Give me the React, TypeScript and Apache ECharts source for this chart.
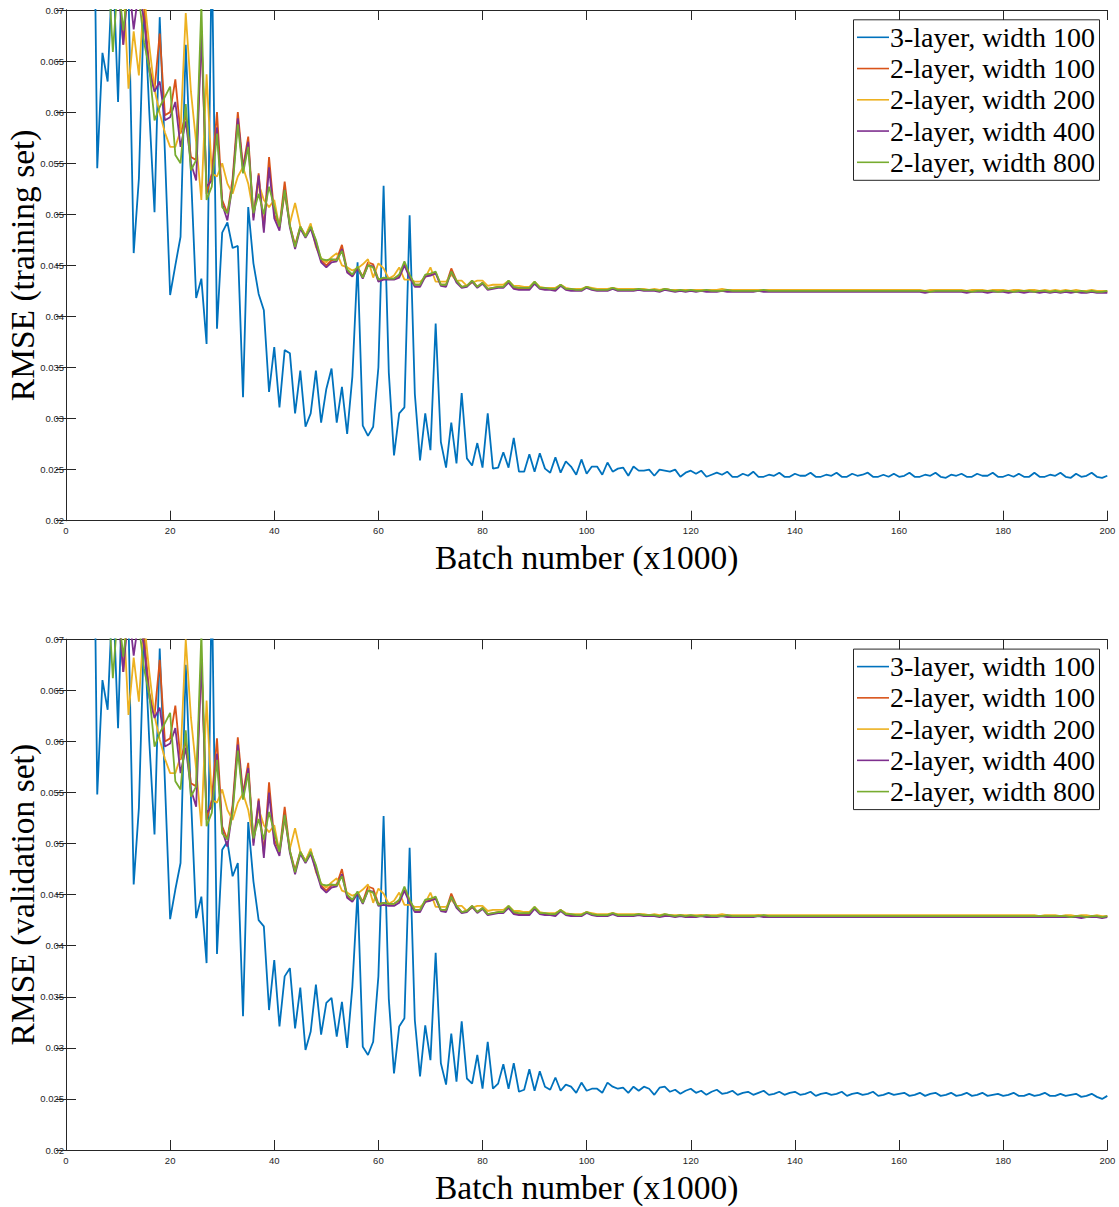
import { useEffect, useRef } from "react";
import * as echarts from "echarts";

// Batch number (x1000): 1..200
const BATCHES: number[] = Array.from({ length: 200 }, (_, i) => i + 1);

const SERIES_NAMES = [
  "3-layer, width 100",
  "2-layer, width 100",
  "2-layer, width 200",
  "2-layer, width 400",
  "2-layer, width 800",
];
const COLORS = ["#0072BD", "#D95319", "#EDB120", "#7E2F8E", "#77AC30"];
const Y_TICK_LABELS = ["0.02", "0.025", "0.03", "0.035", "0.04", "0.045", "0.05", "0.055", "0.06", "0.065", "0.07"];
const X_TICK_LABELS = ["0", "20", "40", "60", "80", "100", "120", "140", "160", "180", "200"];

// ---------------- training set ----------------
const TRAIN_3L_W100 = [
  .09, .09, .095, .09, .1, .0545, .0658, .063, .075, .061,
  .078, .072, .0462, .0535, .071, .06, .0502, .0693, .056, .0421,
  .045, .0478, .0666, .054, .0418, .0437, .0373, .076, .0388, .0482,
  .0492, .0467, .0469, .0321, .0507, .0452, .0422, .0406, .0326, .037,
  .0311, .0367, .0364, .0305, .0347, .0292, .0305, .0347, .0296, .0329,
  .0349, .0296, .0331, .0285, .0341, .0453, .0293, .0283, .0292, .035,
  .0528, .0345, .0264, .0305, .0311, .0499, .0324, .0259, .0305, .0269,
  .0393, .0277, .0252, .0296, .0256, .0325, .0261, .0254, .0276, .0252,
  .0305, .0251, .0252, .0267, .0252, .0281, .0248, .0248, .0265, .0248,
  .0266, .0251, .0247, .0262, .0247, .0258, .0253, .0245, .026, .0246,
  .0253, .0253, .0245, .0257, .0248, .0251, .0252, .0244, .0253, .0249,
  .0249, .025, .0244, .025, .0249, .0248, .025, .0243, .0247, .0249,
  .0246, .0249, .0243, .0245, .0247, .0245, .0248, .0243, .0243, .0246,
  .0244, .0248, .0243, .0243, .0245, .0244, .0247, .0243, .0243, .0246,
  .0244, .0244, .0247, .0243, .0243, .0245, .0244, .0247, .0243, .0243,
  .0246, .0244, .0245, .0247, .0243, .0243, .0245, .0243, .0246, .0243,
  .0244, .0247, .0243, .0243, .0245, .0244, .0247, .0243, .0242, .0245,
  .0244, .0246, .0243, .0243, .0246, .0244, .0244, .0247, .0243, .0243,
  .0245, .0243, .0246, .0243, .0243, .0247, .0243, .0243, .0245, .0244,
  .0247, .0243, .0242, .0246, .0243, .0244, .0247, .0243, .0242, .0244,
];

const TRAIN_2L_W100 = [
  .085, .083, .081, .08, .079, .078, .077, .076, .075, .074,
  .0666, .0735, .0722, .0716, .07, .0645, .0622, .0677, .0597, .06,
  .0632, .0579, .0597, .0556, .0553, .0677, .052, .054, .06, .0514,
  .0501, .0535, .06, .0546, .0576, .0497, .054, .0486, .0556, .05,
  .0488, .0532, .0489, .047, .0488, .0479, .0489, .0473, .0455, .045,
  .0455, .0456, .047, .0445, .044, .0448, .0439, .0453, .0451, .0436,
  .0437, .0437, .0437, .044, .0451, .044, .0431, .0431, .044, .0441,
  .0443, .0431, .0431, .0447, .0435, .0429, .043, .0435, .0429, .0433,
  .0427, .0428, .0429, .0429, .0434, .0428, .0427, .0427, .0427, .0433,
  .0428, .0427, .0427, .0426, .0431, .0427, .0426, .0426, .0426, .0429,
  .0427, .0426, .0426, .0426, .0428, .0426, .0426, .0426, .0426, .0427,
  .0426, .0426, .0426, .0425, .0427, .0426, .0425, .0426, .0425, .0426,
  .0425, .0426, .0425, .0425, .0425, .0426, .0425, .0425, .0425, .0425,
  .0425, .0425, .0426, .0425, .0425, .0425, .0425, .0425, .0425, .0425,
  .0425, .0425, .0425, .0425, .0425, .0425, .0425, .0425, .0425, .0425,
  .0425, .0425, .0425, .0425, .0425, .0425, .0425, .0425, .0425, .0425,
  .0425, .0425, .0425, .0425, .0424, .0425, .0425, .0425, .0425, .0425,
  .0425, .0425, .0424, .0425, .0425, .0425, .0424, .0425, .0425, .0425,
  .0424, .0425, .0425, .0424, .0425, .0425, .0424, .0425, .0424, .0425,
  .0424, .0425, .0424, .0425, .0424, .0424, .0425, .0424, .0424, .0424,
];

const TRAIN_2L_W200 = [
  .085, .083, .082, .08, .079, .078, .077, .076, .075, .074,
  .073, .0623, .0679, .0636, .0715, .0665, .0622, .0599, .058, .0566,
  .0566, .0582, .0697, .062, .057, .0514, .0637, .054, .0537, .055,
  .053, .052, .0537, .0546, .053, .0501, .053, .0514, .0507, .0514,
  .0487, .052, .0491, .0511, .0488, .0479, .0491, .0468, .0457, .0453,
  .0458, .0462, .045, .0448, .0445, .0447, .0451, .0456, .0438, .0452,
  .0447, .0437, .044, .0448, .0436, .0436, .0434, .0434, .0438, .0448,
  .0434, .0434, .0434, .0441, .0435, .0435, .043, .0433, .0435, .0435,
  .043, .0431, .0431, .0431, .0435, .043, .043, .0429, .0429, .0434,
  .0429, .0428, .0428, .0428, .0431, .0428, .0427, .0427, .0427, .0429,
  .0428, .0427, .0427, .0427, .0428, .0427, .0427, .0427, .0427, .0427,
  .0427, .0426, .0427, .0426, .0427, .0426, .0426, .0426, .0426, .0426,
  .0426, .0426, .0426, .0426, .0426, .0427, .0426, .0426, .0426, .0426,
  .0426, .0426, .0426, .0426, .0426, .0426, .0426, .0426, .0426, .0426,
  .0426, .0426, .0426, .0426, .0426, .0426, .0426, .0426, .0426, .0426,
  .0426, .0426, .0426, .0426, .0426, .0426, .0426, .0426, .0426, .0426,
  .0426, .0426, .0426, .0426, .0425, .0426, .0426, .0426, .0426, .0426,
  .0426, .0426, .0425, .0426, .0426, .0426, .0425, .0426, .0426, .0426,
  .0425, .0426, .0426, .0425, .0426, .0426, .0425, .0426, .0425, .0426,
  .0425, .0426, .0425, .0426, .0425, .0425, .0426, .0425, .0425, .0425,
];

const TRAIN_2L_W400 = [
  .082, .08, .079, .078, .077, .076, .075, .074, .073, .0725,
  .0666, .073, .0681, .072, .069, .064, .062, .063, .0592, .0595,
  .061, .0566, .0591, .055, .0533, .0677, .0527, .0533, .0585, .051,
  .0494, .053, .0594, .0543, .0571, .0494, .0538, .0482, .0546, .0496,
  .0484, .0524, .0487, .0466, .0486, .0477, .0486, .047, .0453, .0448,
  .0453, .0454, .0466, .0443, .0439, .0447, .0437, .045, .0449, .0434,
  .0436, .0436, .0436, .0438, .045, .0438, .0429, .0429, .0439, .044,
  .0442, .043, .0429, .0444, .0433, .0428, .0429, .0434, .0428, .0432,
  .0426, .0427, .0428, .0428, .0433, .0427, .0426, .0426, .0426, .0432,
  .0427, .0426, .0426, .0425, .043, .0426, .0425, .0425, .0425, .0428,
  .0426, .0425, .0425, .0425, .0427, .0425, .0425, .0425, .0425, .0426,
  .0425, .0425, .0425, .0424, .0426, .0425, .0424, .0425, .0424, .0425,
  .0424, .0425, .0424, .0424, .0424, .0425, .0424, .0424, .0424, .0424,
  .0424, .0424, .0425, .0424, .0424, .0424, .0424, .0424, .0424, .0424,
  .0424, .0424, .0424, .0424, .0424, .0424, .0424, .0424, .0424, .0424,
  .0424, .0424, .0424, .0424, .0424, .0424, .0424, .0424, .0424, .0424,
  .0424, .0424, .0424, .0424, .0423, .0424, .0424, .0424, .0424, .0424,
  .0424, .0424, .0423, .0424, .0424, .0424, .0423, .0424, .0424, .0424,
  .0423, .0424, .0424, .0423, .0424, .0424, .0423, .0424, .0423, .0424,
  .0423, .0424, .0423, .0424, .0423, .0423, .0424, .0423, .0423, .0423,
];

const TRAIN_2L_W800 = [
  .085, .083, .08, .079, .078, .077, .076, .075, .0659, .073,
  .068, .0725, .072, .0712, .0668, .0643, .0592, .0605, .0615, .0625,
  .0558, .055, .0608, .0543, .0553, .0705, .0514, .0527, .0579, .0507,
  .0501, .0527, .0588, .054, .0566, .0501, .052, .05, .0527, .0507,
  .0488, .0524, .0489, .0468, .0488, .0478, .0488, .0475, .0456, .0455,
  .0456, .0455, .0464, .0446, .0441, .0449, .0438, .045, .0448, .0436,
  .0438, .0437, .0437, .0441, .0454, .0441, .0431, .0431, .0441, .0442,
  .0444, .0431, .0431, .0444, .0435, .0429, .043, .0435, .0429, .0433,
  .0427, .0428, .0429, .0429, .0435, .0429, .0428, .0428, .0428, .0434,
  .0428, .0428, .0427, .0427, .0431, .0427, .0427, .0426, .0426, .0429,
  .0427, .0426, .0426, .0426, .0428, .0426, .0426, .0426, .0426, .0427,
  .0426, .0426, .0426, .0425, .0427, .0426, .0425, .0426, .0425, .0426,
  .0425, .0425, .0426, .0425, .0425, .0425, .0426, .0425, .0425, .0425,
  .0425, .0425, .0425, .0426, .0425, .0425, .0425, .0425, .0425, .0425,
  .0425, .0425, .0425, .0425, .0425, .0425, .0425, .0425, .0425, .0425,
  .0425, .0425, .0425, .0425, .0425, .0425, .0425, .0425, .0425, .0425,
  .0425, .0425, .0425, .0425, .0425, .0424, .0425, .0425, .0425, .0425,
  .0425, .0425, .0425, .0424, .0425, .0425, .0425, .0425, .0424, .0425,
  .0425, .0424, .0425, .0425, .0425, .0424, .0425, .0425, .0424, .0425,
  .0424, .0425, .0425, .0424, .0425, .0424, .0425, .0424, .0424, .0425,
];

// ---------------- validation set ----------------
const VALID_3L_W100 = [
  .09, .09, .095, .09, .1, .0548, .066, .0631, .075, .0613,
  .078, .072, .046, .0535, .071, .06, .0509, .0691, .056, .0426,
  .0455, .0481, .0675, .0545, .0427, .0448, .0383, .076, .0392, .0494,
  .0502, .0468, .0481, .0331, .0521, .0463, .0425, .0419, .0337, .0386,
  .0321, .037, .0378, .0319, .0359, .0298, .0316, .0362, .0313, .0344,
  .0349, .0311, .0345, .03, .036, .0453, .0301, .0293, .0306, .037,
  .0527, .0348, .0275, .0321, .0329, .0496, .0327, .0272, .0322, .0288,
  .0393, .0285, .0264, .0314, .0267, .0326, .027, .0265, .0293, .026,
  .0306, .026, .0265, .0284, .026, .0285, .0257, .0259, .0279, .0258,
  .0277, .0262, .0259, .0271, .0258, .0264, .0262, .0256, .0266, .0258,
  .026, .026, .0256, .0266, .0262, .026, .0261, .0256, .0262, .0258,
  .0262, .026, .0254, .0261, .0262, .0257, .0259, .0255, .0258, .026,
  .0256, .0258, .0254, .0257, .0259, .0255, .0256, .0258, .0254, .0256,
  .0257, .0254, .0256, .0258, .0254, .0255, .0257, .0254, .0256, .0257,
  .0254, .0255, .0257, .0253, .0255, .0256, .0254, .0255, .0257, .0253,
  .0255, .0256, .0254, .0255, .0257, .0253, .0254, .0256, .0254, .0255,
  .0256, .0253, .0254, .0256, .0253, .0255, .0256, .0253, .0254, .0256,
  .0253, .0254, .0256, .0253, .0254, .0256, .0253, .0254, .0255, .0253,
  .0254, .0256, .0253, .0253, .0255, .0253, .0254, .0256, .0253, .0253,
  .0255, .0253, .0254, .0255, .0252, .0253, .0255, .0252, .025, .0253,
];

const VALID_2L_W100 = [
  .085, .083, .081, .08, .079, .078, .077, .076, .075, .074,
  .0668, .0736, .0724, .0718, .0702, .0648, .0625, .068, .06, .0603,
  .0635, .0582, .06, .0559, .0556, .068, .0523, .0543, .0603, .0517,
  .0504, .0538, .0604, .0549, .0579, .0501, .0544, .049, .056, .0504,
  .0492, .0536, .0493, .0474, .0492, .0483, .0493, .0477, .0459, .0454,
  .0459, .046, .0475, .0449, .0444, .0452, .0443, .0458, .0456, .0441,
  .0442, .0441, .0441, .0444, .0455, .0444, .0435, .0435, .0444, .0445,
  .0447, .0435, .0435, .0451, .0439, .0433, .0434, .0439, .0433, .0437,
  .0431, .0432, .0433, .0433, .0438, .0432, .0431, .0431, .0431, .0437,
  .0432, .0431, .0431, .0431, .0435, .0431, .043, .043, .043, .0433,
  .0431, .043, .043, .043, .0432, .043, .043, .043, .043, .0431,
  .043, .043, .043, .0429, .043, .043, .0429, .043, .0429, .0429,
  .0429, .043, .0429, .0429, .0429, .043, .0429, .0429, .0429, .0429,
  .0429, .0429, .043, .0429, .0429, .0429, .0429, .0429, .0429, .0429,
  .0429, .0429, .0429, .0429, .0429, .0429, .0429, .0429, .0429, .0429,
  .0429, .0429, .0429, .0429, .0429, .0429, .0429, .0429, .0429, .0429,
  .0429, .0429, .0429, .0429, .0429, .0429, .0429, .0429, .0429, .0429,
  .0429, .0429, .0429, .0429, .0429, .0429, .0429, .0429, .0429, .0429,
  .0429, .0429, .0429, .0429, .0429, .0429, .0429, .0429, .0429, .0429,
  .0429, .0429, .0429, .0429, .0428, .0429, .0429, .0429, .0428, .0429,
];

const VALID_2L_W200 = [
  .085, .083, .082, .08, .079, .078, .077, .076, .075, .074,
  .073, .0626, .0682, .0639, .0718, .0668, .0625, .0602, .0583, .0569,
  .0569, .0585, .07, .0623, .0573, .0517, .064, .0543, .054, .0553,
  .0533, .0523, .054, .0549, .0533, .0504, .0534, .0518, .0511, .0518,
  .0491, .0524, .0495, .0515, .0492, .0483, .0495, .0472, .0461, .0457,
  .0462, .0466, .0454, .0452, .0449, .0451, .0455, .046, .0442, .0456,
  .0451, .0441, .0444, .0452, .044, .044, .0438, .0438, .0442, .0452,
  .0438, .0438, .0438, .0445, .0439, .0439, .0434, .0437, .0439, .0439,
  .0434, .0435, .0435, .0435, .0439, .0434, .0434, .0433, .0433, .0438,
  .0433, .0432, .0432, .0432, .0435, .0432, .0431, .0431, .0431, .0433,
  .0432, .0431, .0431, .0431, .0432, .0431, .0431, .0431, .0431, .0431,
  .0431, .043, .0431, .043, .0431, .043, .043, .043, .043, .043,
  .043, .043, .043, .043, .043, .0431, .043, .043, .043, .043,
  .043, .043, .043, .043, .043, .043, .043, .043, .043, .043,
  .043, .043, .043, .043, .043, .043, .043, .043, .043, .043,
  .043, .043, .043, .043, .043, .043, .043, .043, .043, .043,
  .043, .043, .043, .043, .043, .043, .043, .043, .043, .043,
  .043, .043, .043, .043, .043, .043, .043, .043, .043, .043,
  .043, .043, .043, .043, .043, .043, .0429, .043, .043, .043,
  .0429, .043, .043, .0429, .043, .043, .0429, .043, .0429, .0429,
];

const VALID_2L_W400 = [
  .082, .08, .079, .078, .077, .076, .075, .074, .073, .0725,
  .0668, .0731, .0684, .0721, .0693, .0643, .0623, .0633, .0595, .0598,
  .0613, .0569, .0594, .0553, .0536, .068, .053, .0536, .0588, .0513,
  .0497, .0533, .0597, .0546, .0574, .0498, .0542, .0486, .055, .05,
  .0488, .0528, .0491, .047, .049, .0481, .049, .0474, .0457, .0452,
  .0457, .0458, .047, .0447, .0443, .0451, .0441, .0454, .0453, .0439,
  .044, .0439, .0439, .0442, .0454, .0442, .0433, .0433, .0443, .0444,
  .0446, .0434, .0433, .0448, .0437, .0432, .0433, .0438, .0432, .0436,
  .043, .0431, .0432, .0432, .0437, .0431, .043, .043, .043, .0436,
  .0431, .043, .043, .0429, .0434, .043, .0429, .0429, .0429, .0432,
  .043, .0429, .0429, .0429, .0431, .0429, .0429, .0429, .0429, .043,
  .0429, .0429, .0429, .0428, .0429, .0429, .0428, .0429, .0428, .0428,
  .0428, .0429, .0428, .0428, .0428, .0429, .0428, .0428, .0428, .0428,
  .0428, .0428, .0429, .0428, .0428, .0428, .0428, .0428, .0428, .0428,
  .0428, .0428, .0428, .0428, .0428, .0428, .0428, .0428, .0428, .0428,
  .0428, .0428, .0428, .0428, .0428, .0428, .0428, .0428, .0428, .0428,
  .0428, .0428, .0428, .0428, .0428, .0428, .0428, .0428, .0428, .0428,
  .0428, .0428, .0428, .0428, .0428, .0428, .0428, .0428, .0428, .0428,
  .0428, .0428, .0428, .0428, .0428, .0428, .0428, .0428, .0428, .0428,
  .0428, .0428, .0428, .0428, .0427, .0428, .0428, .0428, .0427, .0428,
];

const VALID_2L_W800 = [
  .085, .083, .08, .079, .078, .077, .076, .075, .0662, .073,
  .0683, .0726, .0722, .0714, .0671, .0646, .0595, .0608, .0618, .0628,
  .0561, .0553, .0611, .0546, .0556, .0706, .0517, .053, .0582, .051,
  .0504, .053, .0591, .0543, .0569, .0505, .0524, .0504, .0531, .0511,
  .0492, .0528, .0493, .0472, .0492, .0482, .0492, .0479, .046, .0459,
  .046, .0459, .0468, .045, .0445, .0453, .0442, .0454, .0452, .044,
  .0442, .0441, .0441, .0445, .0458, .0445, .0435, .0435, .0445, .0446,
  .0448, .0435, .0435, .0448, .0439, .0433, .0434, .0439, .0433, .0437,
  .0431, .0432, .0433, .0433, .0439, .0433, .0432, .0432, .0432, .0438,
  .0432, .0432, .0431, .0431, .0435, .0431, .0431, .043, .043, .0433,
  .0431, .043, .043, .043, .0432, .043, .043, .043, .043, .0431,
  .043, .043, .043, .0429, .0431, .043, .0429, .043, .0429, .043,
  .0429, .0429, .043, .0429, .0429, .0429, .043, .0429, .0429, .0429,
  .0429, .0429, .0429, .043, .0429, .0429, .0429, .0429, .0429, .0429,
  .0429, .0429, .0429, .0429, .0429, .0429, .0429, .0429, .0429, .0429,
  .0429, .0429, .0429, .0429, .0429, .0429, .0429, .0429, .0429, .0429,
  .0429, .0429, .0429, .0429, .0429, .0429, .0429, .0429, .0429, .0429,
  .0429, .0429, .0429, .0429, .0429, .0429, .0429, .0429, .0429, .0429,
  .0429, .0429, .0429, .0429, .0429, .0429, .0429, .0429, .0429, .0429,
  .0429, .0429, .0428, .0429, .0429, .0428, .0429, .0429, .0428, .0429,
];

const TRAIN_SETS = [TRAIN_3L_W100, TRAIN_2L_W100, TRAIN_2L_W200, TRAIN_2L_W400, TRAIN_2L_W800];
const VALID_SETS = [VALID_3L_W100, VALID_2L_W100, VALID_2L_W200, VALID_2L_W400, VALID_2L_W800];

const SERIF = "'Liberation Serif', 'Times New Roman', Times, serif";
const SANS = "'Liberation Sans', Helvetica, Arial, sans-serif";
const AXIS_COLOR = "#262626";

function toPairs(vals: number[]) {
  return vals.map((v, i) => [BATCHES[i], v]);
}

function yLabel(v: number) {
  const idx = Math.round((v - 0.02) / 0.005);
  return Y_TICK_LABELS[idx] ?? "";
}
function xLabel(v: number) {
  const idx = Math.round(v / 20);
  return X_TICK_LABELS[idx] ?? "";
}

function makeXAxes(gridIndex: number, name: string) {
  const common = {
    gridIndex,
    type: "value",
    min: 0,
    max: 200,
    interval: 20,
    splitLine: { show: false },
    axisLine: { show: true, lineStyle: { color: AXIS_COLOR, width: 1 } },
    axisTick: { show: true, inside: true, length: 10, lineStyle: { color: AXIS_COLOR, width: 1 } },
  };
  return [
    {
      ...common,
      position: "bottom",
      axisLabel: { show: true, formatter: xLabel, fontSize: 9.5, color: AXIS_COLOR, fontFamily: SANS, margin: 5 },
      name,
      nameLocation: "middle",
      nameGap: 20,
      nameTextStyle: { fontFamily: SERIF, fontSize: 33.5, color: "#000" },
    },
    { ...common, position: "top", axisLabel: { show: false } },
  ];
}

function makeYAxes(gridIndex: number, name: string) {
  const common = {
    gridIndex,
    type: "value",
    min: 0.02,
    max: 0.07,
    interval: 0.005,
    splitLine: { show: false },
    axisLine: { show: true, lineStyle: { color: AXIS_COLOR, width: 1 } },
    axisTick: { show: true, inside: true, length: 10, lineStyle: { color: AXIS_COLOR, width: 1 } },
  };
  return [
    {
      ...common,
      position: "left",
      axisLabel: { show: true, formatter: yLabel, fontSize: 9.5, color: AXIS_COLOR, fontFamily: SANS, margin: 2 },
      name,
      nameLocation: "middle",
      nameGap: 27,
      nameMoveOverlap: false,
      nameTextStyle: { fontFamily: SERIF, fontSize: 33.5, color: "#000" },
    },
    { ...common, position: "right", axisLabel: { show: false } },
  ];
}

function makeSeries(sets: number[][], axisIndex: number) {
  return sets.map((vals, i) => ({
    type: "line",
    name: SERIES_NAMES[i],
    data: toPairs(vals),
    xAxisIndex: axisIndex,
    yAxisIndex: axisIndex,
    symbol: "none",
    showSymbol: false,
    clip: true,
    lineStyle: { width: 1.8, color: COLORS[i] },
    itemStyle: { color: COLORS[i] },
    z: 2 + i,
  }));
}

// Legend box drawn as graphic elements (MATLAB style), positioned in pixels.
function makeLegendGraphic(top: number) {
  const rowStep = 31.25;
  const firstRow = top + 18;
  const children: any[] = [
    {
      type: "rect",
      shape: { x: 853.5, y: top + 0.5, width: 246, height: 160.5 },
      style: { fill: "#fff", stroke: AXIS_COLOR, lineWidth: 1 },
    },
  ];
  SERIES_NAMES.forEach((name, i) => {
    const yc = firstRow + i * rowStep;
    children.push({
      type: "line",
      shape: { x1: 857, y1: yc, x2: 889, y2: yc },
      style: { stroke: COLORS[i], lineWidth: 1.6 },
    });
    children.push({
      type: "text",
      x: 890,
      y: yc,
      style: {
        text: name,
        fontFamily: SERIF,
        fontSize: 28,
        fill: "#000",
        align: "left",
        verticalAlign: "middle",
      },
    });
  });
  return { type: "group", z: 100, children };
}

export default function App() {
  const ref = useRef<HTMLDivElement>(null);
  useEffect(() => {
    if (!ref.current) return;
    const chart = echarts.init(ref.current, null, { renderer: "svg" });
    const option = {
      animation: false,
      backgroundColor: "#fff",
      grid: [
        { left: 66, top: 10, width: 1041.3, height: 510.7, containLabel: false, outerBoundsMode: "none" },
        { left: 66, top: 639.3, width: 1041.3, height: 510.7, containLabel: false, outerBoundsMode: "none" },
      ],
      xAxis: [...makeXAxes(0, "Batch number (x1000)"), ...makeXAxes(1, "Batch number (x1000)")],
      yAxis: [...makeYAxes(0, "RMSE (training set)"), ...makeYAxes(1, "RMSE (validation set)")],
      graphic: [makeLegendGraphic(19.3), makeLegendGraphic(648.6)],
      series: [...makeSeries(TRAIN_SETS, 0), ...makeSeries(VALID_SETS, 2)],
    };
    chart.setOption(option as any);
    return () => chart.dispose();
  }, []);
  return (
    <div
      ref={ref}
      style={{ position: "absolute", left: 0, top: 0, width: 1119, height: 1207, background: "#fff" }}
    />
  );
}
